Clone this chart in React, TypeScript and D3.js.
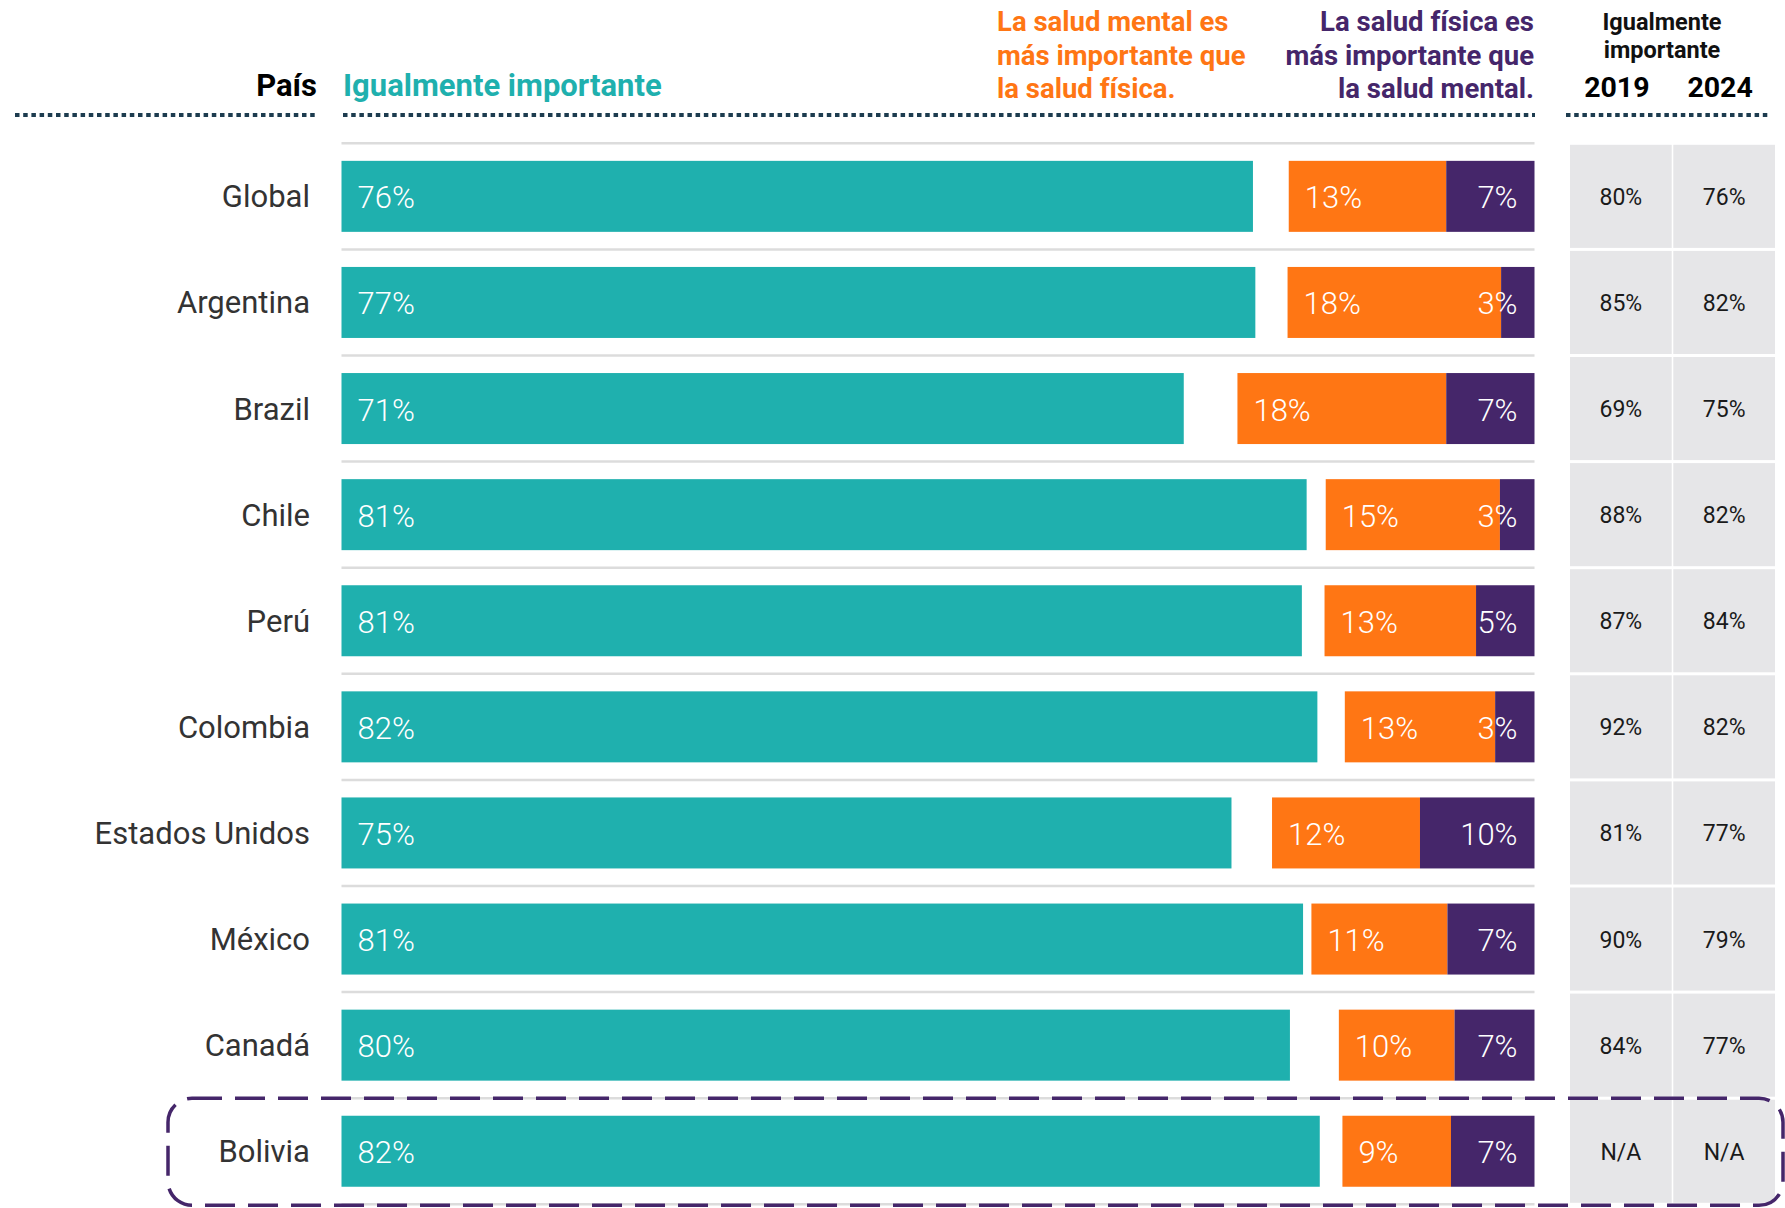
import React from "react";
import * as d3 from "d3";

const countries = ["Global", "Argentina", "Brazil", "Chile", "Perú", "Colombia", "Estados Unidos", "México", "Canadá", "Bolivia"];
const equallyImportant = [76.4, 76.6, 70.6, 80.9, 80.5, 81.8, 74.6, 80.6, 79.5, 82.0];
const mentalMore = [13.2, 17.9, 17.5, 14.6, 12.7, 12.6, 12.4, 11.4, 9.7, 9.1];
const physicalMore = [7.4, 2.8, 7.4, 2.9, 4.9, 3.3, 9.6, 7.3, 6.7, 7.0];
const equal2019 = ["80%", "85%", "69%", "88%", "87%", "92%", "81%", "90%", "84%", "N/A"];
const equal2024 = ["76%", "82%", "75%", "82%", "84%", "82%", "77%", "79%", "77%", "N/A"];
const tableYears = ["2019", "2024"];

const TEAL = "#1fb0ae";
const ORANGE = "#ff7614";
const PURPLE = "#45266a";
const DOT = "#1d3c4f";
const FONT = "Roboto, 'Noto Sans', sans-serif";

export default function App() {
  const W = 1785;
  const H = 1208;
  const x = d3.scaleLinear().domain([0, 100]).range([341.5, 1534.5]);
  const y = d3.scaleBand<string>().domain(countries).range([143.3, 1204.3]).padding(0);
  const bw = y.bandwidth();
  const barH = 71;
  const cols = d3.scaleBand<string>().domain(tableYears).range([1570, 1775]).paddingInner(0.015);
  const pct = (v: number) => `${Math.round(v)}%`;

  const gridYs = countries.map((c) => y(c) as number).concat([(y(countries[countries.length - 1]) as number) + bw]);

  return (
    <svg width={W} height={H} style={{ position: "absolute", left: 0, top: 0, background: "#fff" }} fontFamily={FONT}>
      {/* header */}
      <text x={317} y={96} textAnchor="end" fontSize={31} fontWeight={700} fill="#000">País</text>
      <text x={343} y={96} fontSize={31} fontWeight={700} fill={TEAL}>Igualmente importante</text>
      {["La salud mental es", "más importante que", "la salud física."].map((t, i) => (
        <text key={"o" + i} x={997} y={31 + i * 33.5} fontSize={27.5} fontWeight={700} fill={ORANGE}>{t}</text>
      ))}
      {["La salud física es", "más importante que", "la salud mental."].map((t, i) => (
        <text key={"p" + i} x={1534} y={31 + i * 33.5} textAnchor="end" fontSize={27.5} fontWeight={700} fill={PURPLE}>{t}</text>
      ))}
      <text x={1662} y={30} textAnchor="middle" fontSize={23.5} fontWeight={700} fill="#111">Igualmente</text>
      <text x={1662} y={58} textAnchor="middle" fontSize={23.5} fontWeight={700} fill="#111">importante</text>
      {tableYears.map((yr) => (
        <text key={yr} x={(cols(yr) as number) + cols.bandwidth() / 2 - 4} y={97} textAnchor="middle" fontSize={28.5} fontWeight={700} fill="#000">{yr}</text>
      ))}
      <line x1={15} x2={316} y1={115} y2={115} stroke={DOT} strokeWidth={4} strokeDasharray="4.5 3.7" />
      <line x1={343} x2={1535} y1={115} y2={115} stroke={DOT} strokeWidth={4} strokeDasharray="4.5 3.7" />
      <line x1={1566} x2={1771} y1={115} y2={115} stroke={DOT} strokeWidth={4} strokeDasharray="4.5 3.7" />

      {/* grid lines */}
      {gridYs.map((gy, i) => (
        <line key={"g" + i} x1={x(0)} x2={x(100)} y1={gy} y2={gy} stroke="#dcdcdc" strokeWidth={2.5} />
      ))}

      {/* table cells */}
      {countries.map((c, i) => (
        <g key={"t" + c}>
          {tableYears.map((yr, j) => (
            <g key={yr}>
              <rect x={cols(yr) as number} y={(y(c) as number) + 1.5} width={cols.bandwidth()} height={bw - 3} fill="#e6e6e8" />
              <text x={(cols(yr) as number) + cols.bandwidth() / 2} y={(y(c) as number) + bw / 2 + 8.5} textAnchor="middle" fontSize={23} fill="#1a1a1a">
                {j === 0 ? equal2019[i] : equal2024[i]}
              </text>
            </g>
          ))}
        </g>
      ))}

      {/* bars */}
      {countries.map((c, i) => {
        const cy = (y(c) as number) + bw / 2;
        const top = cy - barH / 2;
        const oStart = 100 - mentalMore[i] - physicalMore[i];
        const pStart = 100 - physicalMore[i];
        return (
          <g key={"b" + c}>
            <text x={310} y={cy + 11} textAnchor="end" fontSize={31} fill="#333">{c}</text>
            <rect x={x(0)} y={top} width={x(equallyImportant[i]) - x(0)} height={barH} fill={TEAL} />
            <rect x={x(oStart)} y={top} width={x(pStart) - x(oStart)} height={barH} fill={ORANGE} />
            <rect x={x(pStart)} y={top} width={x(100) - x(pStart)} height={barH} fill={PURPLE} />
            <text x={x(0) + 16} y={cy + 12} fontSize={31} fontWeight={300} fill="#fff">{pct(equallyImportant[i])}</text>
            <text x={x(oStart) + 16} y={cy + 12} fontSize={31} fontWeight={300} fill="#fff">{pct(mentalMore[i])}</text>
            <text x={x(100) - 17} y={cy + 12} textAnchor="end" fontSize={31} fontWeight={300} fill="#fff">{pct(physicalMore[i])}</text>
          </g>
        );
      })}

      {/* highlight box for Bolivia */}
      <rect
        x={168}
        y={y("Bolivia") as number}
        width={1615}
        height={bw + 1}
        rx={24}
        ry={24}
        fill="none"
        stroke={PURPLE}
        strokeWidth={3.5}
        strokeDasharray="30 13"
      />
    </svg>
  );
}
